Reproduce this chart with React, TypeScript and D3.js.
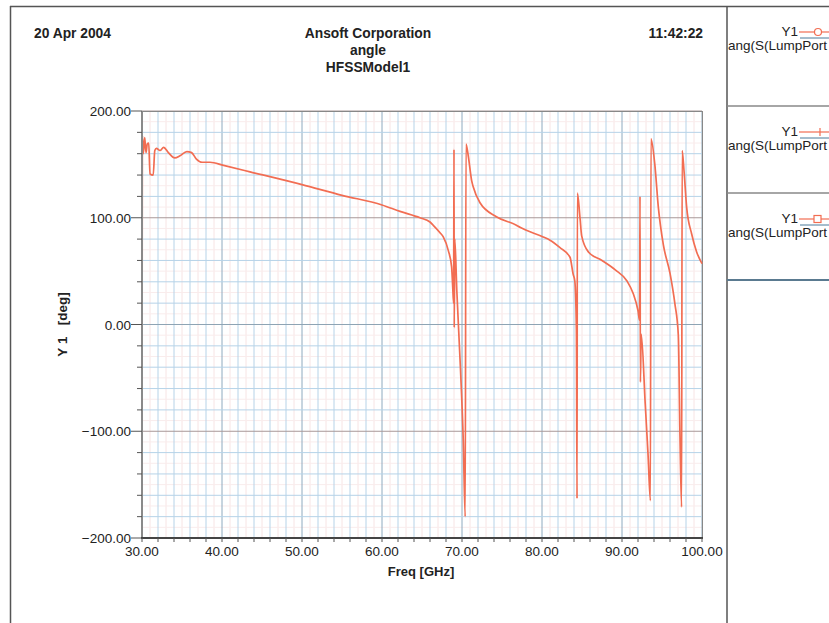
import React from "react";
import * as d3 from "d3";

// S-parameter phase
const freqGHz = [
  30.0, 30.05, 30.16, 30.34, 30.5, 30.66, 30.84, 31.0, 31.4, 31.6, 31.8, 32.25, 32.7, 33.3, 34.1,
  34.75, 35.6, 36.2, 36.8, 37.5, 38.5, 40.2, 43.5, 50.0, 55.0, 60.0, 62.25, 64.75, 66.0, 66.4,
  67.25, 67.66, 68.3, 68.7, 68.84, 68.95, 69.0, 69.03, 69.1, 69.35, 69.8, 70.16, 70.4, 70.5, 70.8,
  71.2, 71.4, 72.25, 74.3, 76.8, 77.25, 80.15, 81.0, 82.25, 83.5, 83.9, 84.1, 84.3, 84.38, 84.42,
  84.75, 84.96, 85.8, 87.5, 89.2, 90.6, 91.4, 92.0, 92.2, 92.25, 92.3, 92.4, 92.9, 93.25, 93.55,
  93.62, 94.1, 94.54, 95.16, 96.0, 96.6, 97.04, 97.25, 97.45, 97.52, 97.75, 98.08, 98.7, 99.33, 100.0,
];
const angleDeg = [
  -143, 177, 160, 175, 161, 169, 170, 141, 140, 163, 165, 163, 166, 161, 156,
  158, 162, 161, 155, 152, 152, 149, 143, 131, 121, 112, 106, 100, 96, 93,
  86, 82, 69, 54, 35, 20, 164, -3, 80, 32, -40, -109, -180, 169, 157,
  135, 129, 114, 101, 93, 91, 82, 79, 72, 63, 47, 41, -5, -163, 123,
  100, 83, 68, 60, 51, 41, 29, 13, 4, 120, -54, -9, -74, -121, -165,
  174, 150, 110, 75, 48, 20, -10, -105, -171, 163, 144, 110, 85, 68, 57,
];

const xTicks = [30, 40, 50, 60, 70, 80, 90, 100];
const yTicks = [-200, -100, 0, 100, 200];
const legendMarkers = ["circle", "plus", "square"];
const legendTop = ["Y1", "Y1", "Y1"];
const legendBottom = ["ang(S(LumpPort", "ang(S(LumpPort", "ang(S(LumpPort"];

const W = 829;
const H = 623;
const font = "'Liberation Sans', Arial, sans-serif";
const curveColor = "#f26d52";

export default function App() {
  const x = d3.scaleLinear().domain([30, 100]).range([142, 702]);
  const y = d3.scaleLinear().domain([-200, 200]).range([538, 111]);
  const fmt = d3.format(".2f");

  const pts: [number, number][] = freqGHz.map((f, i) => [f, angleDeg[i]]);
  const line = d3
    .line<[number, number]>()
    .curve(d3.curveMonotoneX)
    .x((d) => x(d[0]))
    .y((d) => y(d[1]));

  const minorX = d3.range(30, 100.01, 2);
  const pinkX = d3.range(31, 100, 2);
  const minorY = d3.range(-200, 200.01, 20);
  const pinkY = d3.range(-190, 200, 20);

  return (
    <svg
      width={W}
      height={H}
      style={{ position: "absolute", left: 0, top: 0, background: "#fff" }}
      fontFamily={font}
    >
      {/* frame */}
      <line x1={10.5} y1={6} x2={10.5} y2={H} stroke="#555" strokeWidth={1.5} />
      <line x1={10} y1={6.5} x2={W} y2={6.5} stroke="#555" strokeWidth={1.5} />
      <line x1={727} y1={6} x2={727} y2={H} stroke="#555" strokeWidth={1.5} />

      {/* header */}
      <text x={34} y={38} fontSize={13.8} fontWeight="bold" fill="#222">20 Apr 2004</text>
      <text x={368} y={38} fontSize={13.8} fontWeight="bold" fill="#222" textAnchor="middle">Ansoft Corporation</text>
      <text x={368} y={55} fontSize={13.8} fontWeight="bold" fill="#222" textAnchor="middle">angle</text>
      <text x={368} y={72} fontSize={13.8} fontWeight="bold" fill="#222" textAnchor="middle">HFSSModel1</text>
      <text x={703} y={38} fontSize={13.8} fontWeight="bold" fill="#222" textAnchor="end">11:42:22</text>

      {/* grid */}
      {pinkX.map((v) => (
        <line key={"px" + v} x1={x(v)} x2={x(v)} y1={y(200)} y2={y(-200)} stroke="#f7e4e4" strokeWidth={1} />
      ))}
      {pinkY.map((v) => (
        <line key={"py" + v} x1={x(30)} x2={x(100)} y1={y(v)} y2={y(v)} stroke="#f9ecec" strokeWidth={1} />
      ))}
      {minorX.map((v) => (
        <line key={"mx" + v} x1={x(v)} x2={x(v)} y1={y(200)} y2={y(-200)}
          stroke={v % 10 === 0 ? "#8eaabf" : "#b6d3e8"} strokeWidth={1} />
      ))}
      {minorY.map((v) => (
        <line key={"my" + v} x1={x(30)} x2={x(100)} y1={y(v)} y2={y(v)}
          stroke={v % 100 === 0 ? (v === 0 ? "#8ea4b4" : "#a89898") : "#b6d3e8"} strokeWidth={1} />
      ))}

      {/* plot border */}
      <line x1={x(30)} x2={x(100)} y1={y(200) + 0.5} y2={y(200) + 0.5} stroke="#888" strokeWidth={1} />
      <line x1={x(100) + 0.5} x2={x(100) + 0.5} y1={y(200)} y2={y(-200)} stroke="#888" strokeWidth={1} />

      {/* curve */}
      <path d={line(pts) ?? ""} fill="none" stroke={curveColor} strokeWidth={1.7} strokeLinejoin="round" />

      {/* y axis */}
      <line x1={x(30)} x2={x(30)} y1={y(200)} y2={y(-200)} stroke="#8a8a8a" strokeWidth={2} />
      {minorY.map((v) => (
        <line key={"ty" + v} x1={v % 100 === 0 ? 131 : 137} x2={x(30)} y1={y(v)} y2={y(v)} stroke="#555" strokeWidth={1} />
      ))}
      {yTicks.map((v) => (
        <text key={"ly" + v} x={131} y={y(v) + 5} fontSize={13.5} fill="#222" textAnchor="end">{fmt(v)}</text>
      ))}
      <text
        transform={`translate(67,${y(0)}) rotate(-90)`}
        fontSize={13.5}
        fontWeight="bold"
        fill="#222"
        textAnchor="middle"
        xmlSpace="preserve"
        style={{ whiteSpace: "pre" }}
      >
        {"Y 1   [deg]"}
      </text>

      {/* x axis */}
      <line x1={x(30) - 1} x2={x(100) + 1} y1={y(-200)} y2={y(-200)} stroke="#444" strokeWidth={2} />
      {minorX.map((v) => (
        <line key={"tx" + v} x1={x(v)} x2={x(v)} y1={y(-200)} y2={y(-200) + 4} stroke="#555" strokeWidth={1} />
      ))}
      {xTicks.map((v) => (
        <text key={"lx" + v} x={x(v)} y={556} fontSize={13.5} fill="#222" textAnchor="middle">{fmt(v)}</text>
      ))}
      <text x={421} y={576} fontSize={13} fontWeight="bold" fill="#222" textAnchor="middle">Freq [GHz]</text>

      {/* legend panel */}
      {legendMarkers.map((m, i) => {
        const top = [6, 106, 193][i];
        const ly = top + 26;
        return (
          <g key={"lg" + i}>
            {i > 0 && <line x1={727} x2={W} y1={top} y2={top} stroke="#888" strokeWidth={1.5} />}
            <text x={798} y={top + 30} fontSize={13.5} fill="#222" textAnchor="end">{legendTop[i]}</text>
            <line x1={799} x2={W} y1={ly} y2={ly} stroke={curveColor} strokeWidth={1.2} />
            <line x1={800} x2={W} y1={ly + 6} y2={ly + 6} stroke="#4a7a9a" strokeWidth={1} />
            {m === "circle" && <circle cx={818} cy={ly} r={3.5} fill="#fff" stroke={curveColor} strokeWidth={1.2} />}
            {m === "plus" && <line x1={820} x2={820} y1={ly - 4} y2={ly + 4} stroke={curveColor} strokeWidth={1.2} />}
            {m === "square" && <rect x={814} y={ly - 3.5} width={7} height={7} fill="#fff" stroke={curveColor} strokeWidth={1.2} />}
            <text x={728} y={top + 44} fontSize={13.5} fill="#222">{legendBottom[i]}</text>
          </g>
        );
      })}
      <line x1={727} x2={W} y1={280} y2={280} stroke="#5a7a90" strokeWidth={2} />
    </svg>
  );
}
